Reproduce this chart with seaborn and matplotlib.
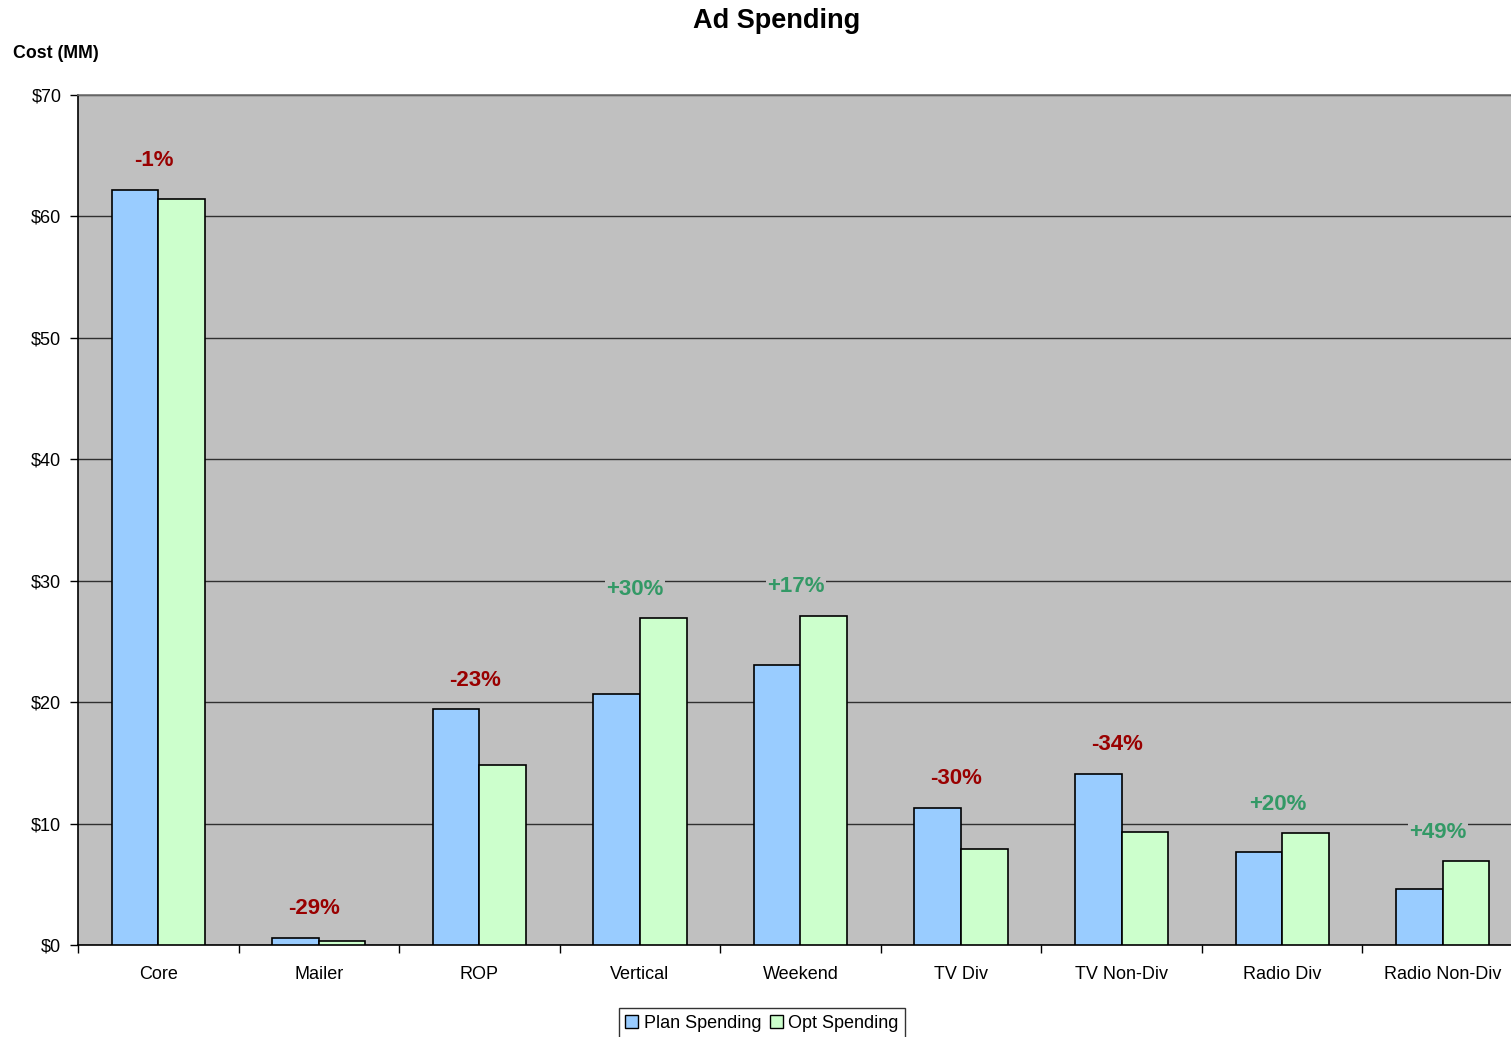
import matplotlib
matplotlib.use("Agg")
import matplotlib.pyplot as plt
import seaborn as sns
import pandas as pd
import numpy as np
from matplotlib.patches import Patch
from matplotlib.ticker import FixedLocator, FuncFormatter

categories = ["Core", "Mailer", "ROP", "Vertical", "Weekend", "TV Div", "TV Non-Div", "Radio Div", "Radio Non-Div"]
plan_spending = [62.2, 0.58, 19.4, 20.7, 23.1, 11.3, 14.1, 7.7, 4.6]
opt_spending = [61.4, 0.33, 14.8, 26.9, 27.1, 7.9, 9.3, 9.2, 6.9]
change_labels = ["-1%", "-29%", "-23%", "+30%", "+17%", "-30%", "-34%", "+20%", "+49%"]
series_names = ["Plan Spending", "Opt Spending"]

sns.set_theme(style="white")
plt.rcParams['font.family'] = ['Liberation Sans', 'DejaVu Sans']
plt.rcParams['text.color'] = 'black'

df = pd.DataFrame({
    "category": categories * 2,
    "cost": plan_spending + opt_spending,
    "series": [series_names[0]] * len(categories) + [series_names[1]] * len(categories),
})

colors = ["#99CCFF", "#CCFFCC"]
fig = plt.figure(figsize=(15.11, 10.37), dpi=100)
ax = fig.add_axes([78/1511, 1 - 945/1037, (1523 - 78)/1511, (945 - 95)/1037])
ax.set_facecolor("#C0C0C0")

sns.barplot(data=df, x="category", y="cost", hue="series", palette=colors,
            width=0.58, gap=0, edgecolor="black", linewidth=1.2, ax=ax,
            legend=False, saturation=1, errorbar=None, zorder=3)

ax.set_ylim(0, 70)
ax.set_xlim(-0.5, len(categories) - 0.5)
ax.yaxis.set_major_locator(FixedLocator(np.arange(0, 71, 10)))
ax.yaxis.set_major_formatter(FuncFormatter(lambda v, p: f"${v:.0f}"))
ax.grid(axis="y", color="#303030", linewidth=1.0, zorder=0)
ax.set_axisbelow(True)

ax.set_xlabel("")
ax.set_ylabel("")
ax.tick_params(axis="x", which="major", length=0, pad=15, labelsize=13, colors="black")
ax.set_xticks(np.arange(-0.5, len(categories), 1), minor=True)
ax.tick_params(axis="x", which="minor", length=6, width=1, direction="out", color="black", bottom=True)
ax.tick_params(axis="y", length=6, width=1, direction="out", labelsize=13, colors="black", left=True, pad=6)

for side in ["left", "bottom"]:
    ax.spines[side].set_color("black")
    ax.spines[side].set_linewidth(1.2)
ax.spines["top"].set_color("#707070")
ax.spines["top"].set_linewidth(1.2)
ax.spines["right"].set_visible(False)

for i, lab in enumerate(change_labels):
    top = max(plan_spending[i], opt_spending[i])
    col = "#339966" if lab.startswith("+") else "#990000"
    ax.text(i - 0.03, top + 2.4, lab, ha="center", va="center", fontsize=16,
            fontweight="bold", color=col, zorder=5,
            bbox=dict(facecolor="#C0C0C0", edgecolor="none", pad=1.0))

fig.text(777/1511, 1 - 21/1037, "Ad Spending", ha="center", va="center",
         fontsize=19.5, fontweight="bold", color="black")
fig.text(13/1511, 1 - 53/1037, "Cost (MM)", ha="left", va="center",
         fontsize=12.8, fontweight="bold", color="black")

handles = [Patch(facecolor=c, edgecolor="black", linewidth=1.0) for c in colors]
leg = fig.legend(handles, series_names, loc="center", bbox_to_anchor=(762/1511, 1 - 1023/1037),
                 ncol=2, frameon=True, fontsize=13, handlelength=0.7, handleheight=0.7,
                 handletextpad=0.3, columnspacing=0.5, borderpad=0.35, fancybox=False)
leg.get_frame().set_edgecolor("black")
leg.get_frame().set_linewidth(1.0)
for t in leg.get_texts():
    t.set_color("black")

fig.savefig("out.png", dpi=100, facecolor="white")
